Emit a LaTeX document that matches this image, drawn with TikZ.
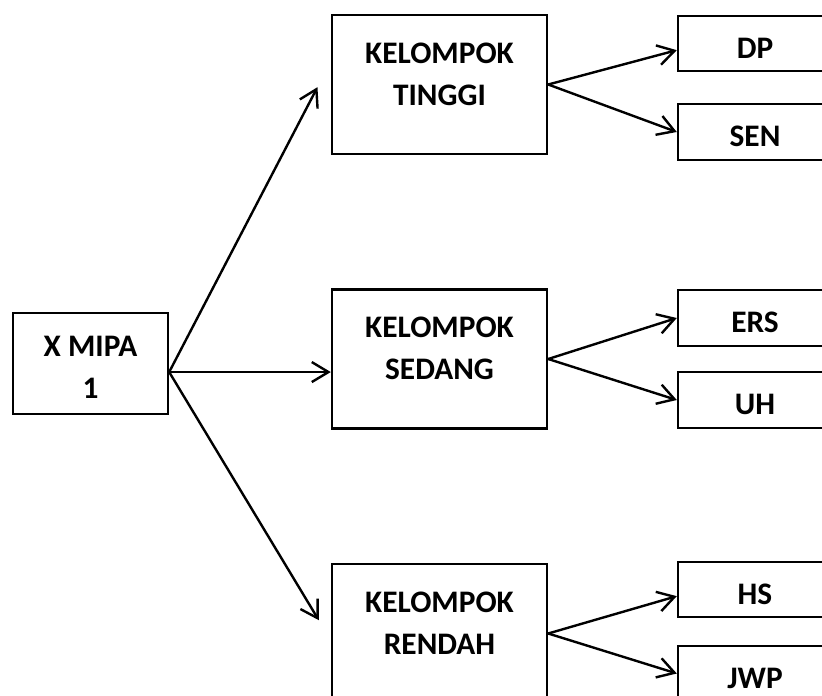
\documentclass[tikz,border=0pt]{standalone}
\usepackage{fontspec}
\setmainfont{Carlito}
\usetikzlibrary{
  calc,positioning,
  arrows.meta
}

\begin{document}
\begin{tikzpicture}[x=0.75pt,y=-0.75pt,line width=1.8pt,
  every node/.style={font=\fontsize{23.5}{31.5}\selectfont\bfseries,align=center},
  kotak/.style={draw,inner sep=0pt},
  grup/.style={kotak,minimum width=161.25pt,minimum height=104pt,
    label={[yshift=8pt]center:#1}},
  sub/.style={kotak,minimum width=115.5pt,minimum height=41.6pt,
    label={[yshift=-3.4pt]center:#1}},
  panah/.style={-{Straight Barb[length=12.5pt,width=15pt]},line join=round}
]

\useasboundingbox (0,0) rectangle (822,696);
\clip (0,0) rectangle (822,696);

\node[kotak,minimum width=116.25pt,minimum height=75.75pt,
  label={[yshift=-3pt]center:X MIPA\\1}] (xmipa) at (90.5,363.5) {};

\node[grup={KELOMPOK\\TINGGI}] (tinggi) at (439.5,84.5) {};
\node[grup={KELOMPOK\\SEDANG}] (sedang) at (439.5,359) {};
\node[grup={KELOMPOK\\RENDAH}] (rendah) at (439.5,633.5) {};

\node[sub=DP] (dp) at (755,43.5) {};
\node[sub=SEN] (sen) at (755,132) {};
\node[sub=ERS] (ers) at (755,318) {};
\node[sub=UH] (uh) at (755,400) {};
\node[sub=HS] (hs) at (755,589.5) {};
\node[sub=JWP] (jwp) at (755,673.5) {};

\coordinate (pusat) at ([yshift=-6.4pt]xmipa.east);
\draw[panah] (pusat) -- ([xshift=-10pt,yshift=-2pt]tinggi.west);
\draw[panah] (pusat) -- (pusat -| sedang.west);
\draw[panah] (pusat) -- ([xshift=-9pt,yshift=10pt]rendah.west);

\draw[panah] (tinggi.east) -- ([yshift=-5pt]dp.west);
\draw[panah] (tinggi.east) -- (sen.west);
\draw[panah] (sedang.east) -- (ers.west);
\draw[panah] (sedang.east) -- (uh.west);
\draw[panah] (rendah.east) -- ([yshift=-5pt]hs.west);
\draw[panah] (rendah.east) -- (jwp.west);
\end{tikzpicture}
\end{document}
